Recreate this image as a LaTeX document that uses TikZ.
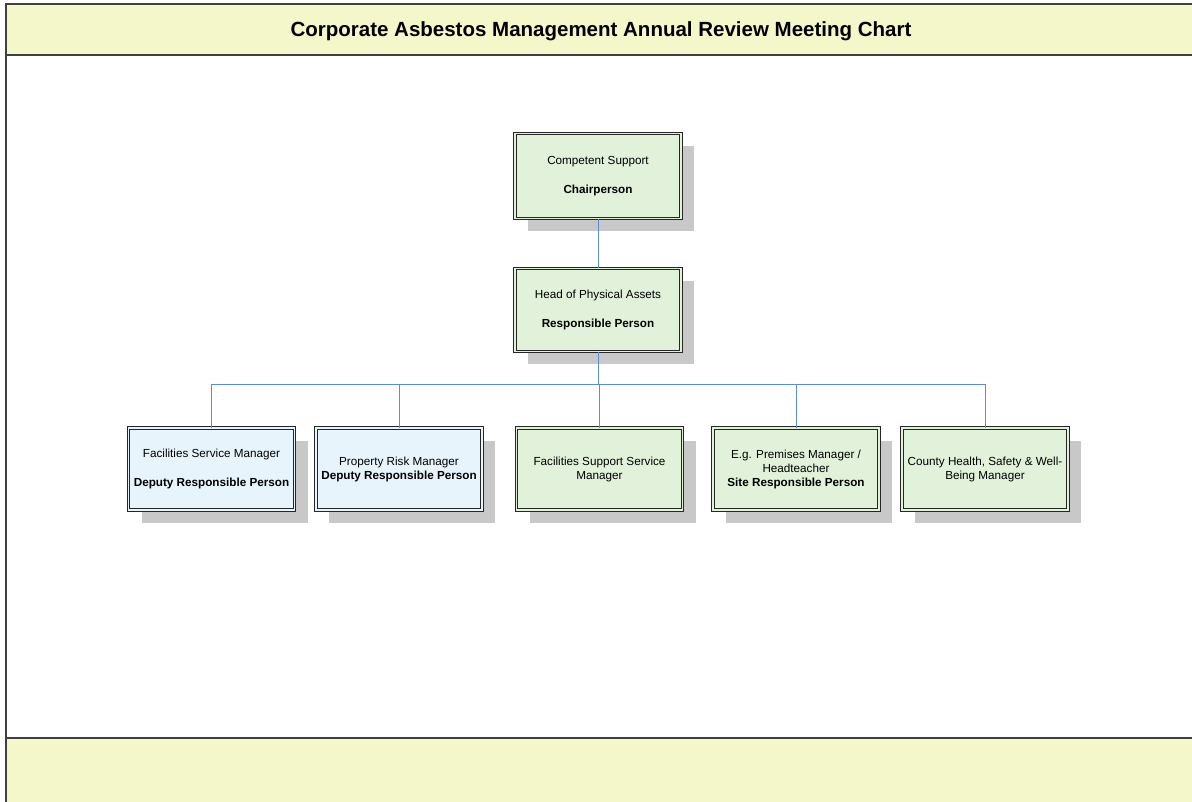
\documentclass[tikz,border=0pt]{standalone}
\usepackage{fontspec}
\setmainfont{Liberation Sans}
\usetikzlibrary{shadows}

\definecolor{bandyellow}{HTML}{F4F7C9}
\definecolor{boxgreen}{HTML}{E1F1DA}
\definecolor{boxblue}{HTML}{E7F4FC}
\definecolor{shadowgrey}{HTML}{C8C8C8}
\definecolor{linkblue}{HTML}{5B8ED6}

\tikzset{
  frameline/.style={draw=black!75, line width=1.2pt},
  rolebox/.style={draw=black!85, line width=0.9pt, double distance=1.6pt,
    minimum width=166pt, minimum height=82pt, inner sep=2pt, align=center,
    font=\fontsize{11.7}{14}\selectfont,
    drop shadow={shadow xshift=13pt, shadow yshift=-13pt, fill=shadowgrey, opacity=1}},
  greenbox/.style={rolebox, fill=boxgreen, double=boxgreen},
  bluebox/.style={rolebox, fill=boxblue, double=boxblue},
  link/.style={draw=linkblue, line width=0.8pt}
}

\begin{document}
\begin{tikzpicture}[x=1pt, y=-1pt]
  %%%%% FRAME %%%%%
  \useasboundingbox (0,0) rectangle (1192,802);
  \clip (0,0) rectangle (1192,802);

  \draw[frameline, fill=white] (6,4) rectangle (1197,808);
  \draw[frameline, fill=bandyellow] (6,4) rectangle (1197,55);
  \draw[frameline, fill=bandyellow] (6,738) rectangle (1197,808);

  \node[font=\bfseries\fontsize{20.5}{24}\selectfont] (title) at (601,31)
    {Corporate Asbestos Management Annual Review Meeting Chart};

  %%%%% BOXES %%%%%
  \node[greenbox, minimum height=85pt] (chair) at (598,176)
    {Competent Support\\[15pt]\textbf{Chairperson}};
  \node[greenbox, minimum height=83pt] (head) at (598,310)
    {Head of Physical Assets\\[15pt]\textbf{Responsible Person}};

  \node[bluebox] (fsm) at (211.5,469)
    {Facilities Service Manager\\[15pt]\textbf{Deputy Responsible Person}};
  \node[bluebox] (prm) at (399,469)
    {Property Risk Manager\\\textbf{Deputy Responsible Person}};
  \node[greenbox] (fssm) at (599.5,469)
    {Facilities Support Service\\Manager};
  \node[greenbox] (site) at (796,469)
    {E.g. Premises Manager /\\Headteacher\\\textbf{Site Responsible Person}};
  \node[greenbox] (chsw) at (985,469)
    {County Health, Safety \& Well-\\Being Manager};

  %%%%% LINKS %%%%%
  \coordinate (bus) at (598,384);
  \draw[link] (chair) -- (head);
  \draw[link] (head) -- (bus);
  \foreach \n in {fsm,prm,fssm,site,chsw}
    \draw[link] (bus) -| (\n);
\end{tikzpicture}
\end{document}
